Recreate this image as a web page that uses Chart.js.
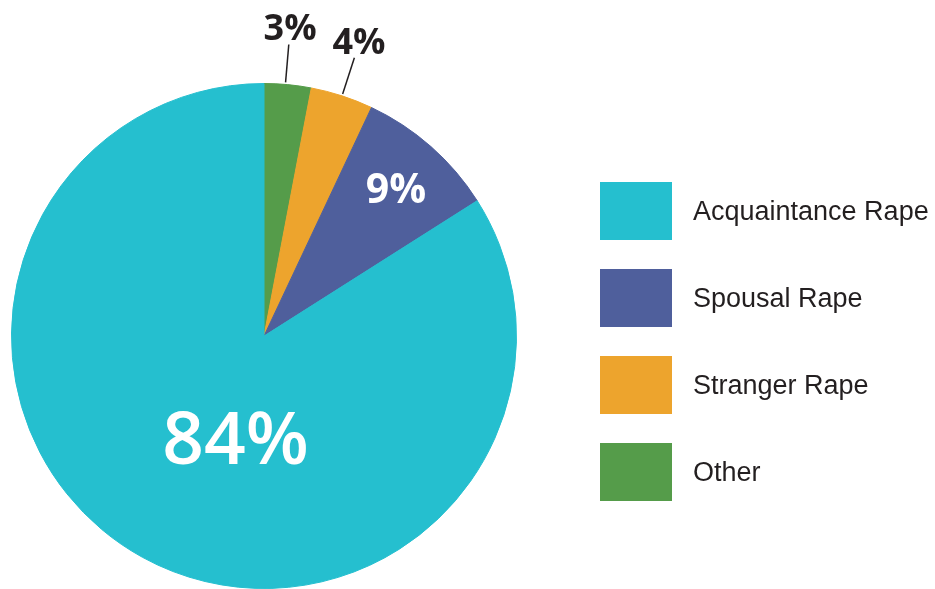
<!DOCTYPE html>
<html>
<head>
<title>Rape by Relationship</title>
<script src="https://cdn.jsdelivr.net/npm/chart.js"></script>
<style>
body {
  margin: 0;
  background: #fff;
}
#wrap {
  position: relative;
  width: 935px;
  height: 589px;
}
#legend {
  position: absolute;
  left: 600px;
  top: 182px;
  font-family: "Liberation Sans", Arial, sans-serif;
  font-size: 27px;
  color: #231f20;
}
.item {
  display: flex;
  align-items: center;
  height: 58px;
  margin-bottom: 29px;
}
.swatch {
  width: 72px;
  height: 58px;
  margin-right: 21px;
}
</style>
</head>
<body>
  <div id="wrap">
    <canvas id="myChart" width="935" height="589"></canvas>
    <div id="legend"></div>
  </div>

  <script>
  // slices clockwise from the top
  const categories = ['Other', 'Stranger Rape', 'Spousal Rape', 'Acquaintance Rape'];
  const percents = [3, 4, 9, 84];
  const colors = ['#559c4a', '#eda42d', '#4f5f9c', '#25bfcf'];

  // label placement: where inside the slice (angle fraction, radius fraction) or outside with a leader line
  const labelSpots = [
    { outside: true, frac: 0.45 },
    { outside: true, frac: 0.5 },
    { outside: false, frac: 0.53, r: 0.775, size: 41 },
    { outside: false, frac: 0.454, r: 0.44, size: 73 }
  ];

  const pctLabels = {
    id: 'pctLabels',
    afterDatasetsDraw(chart) {
      const ctx = chart.ctx;
      const arcs = chart.getDatasetMeta(0).data;
      ctx.save();
      ctx.textAlign = 'center';
      ctx.textBaseline = 'middle';
      arcs.forEach((arc, i) => {
        const spot = labelSpots[i];
        const a = arc.startAngle + (arc.endAngle - arc.startAngle) * spot.frac;
        const R = arc.outerRadius;
        const text = percents[i] + '%';
        if (spot.outside) {
          ctx.strokeStyle = '#231f20';
          ctx.lineWidth = 1.5;
          ctx.beginPath();
          ctx.moveTo(arc.x + Math.cos(a) * (R + 2), arc.y + Math.sin(a) * (R + 2));
          ctx.lineTo(arc.x + Math.cos(a) * (R + 40), arc.y + Math.sin(a) * (R + 40));
          ctx.stroke();
          ctx.fillStyle = '#231f20';
          ctx.font = 'bold 36px "Open Sans", sans-serif';
          ctx.fillText(text, arc.x + Math.cos(a) * (R + 55), arc.y + Math.sin(a) * (R + 55));
        } else {
          ctx.fillStyle = '#ffffff';
          ctx.font = (spot.size > 60 ? '600 ' : 'bold ') + spot.size + 'px "Open Sans", sans-serif';
          ctx.fillText(text, arc.x + Math.cos(a) * R * spot.r, arc.y + Math.sin(a) * R * spot.r);
        }
      });
      ctx.restore();
    }
  };

  const ctx = document.getElementById('myChart').getContext('2d');
  new Chart(ctx, {
    type: 'pie',
    data: {
      labels: categories,
      datasets: [{
        data: percents,
        backgroundColor: colors,
        borderColor: colors,
        borderWidth: 1
      }]
    },
    options: {
      responsive: false,
      animation: false,
      layout: {
        padding: { left: 10, right: 417, top: 83, bottom: 0 }
      },
      plugins: {
        legend: { display: false },
        tooltip: { enabled: false }
      }
    },
    plugins: [pctLabels]
  });

  // legend, same order as the reference (reverse of the slices)
  const legend = document.getElementById('legend');
  for (let i = categories.length - 1; i >= 0; i--) {
    const row = document.createElement('div');
    row.className = 'item';
    const sw = document.createElement('div');
    sw.className = 'swatch';
    sw.style.background = colors[i];
    const label = document.createElement('span');
    label.textContent = categories[i];
    row.appendChild(sw);
    row.appendChild(label);
    legend.appendChild(row);
  }
  </script>
</body>
</html>
